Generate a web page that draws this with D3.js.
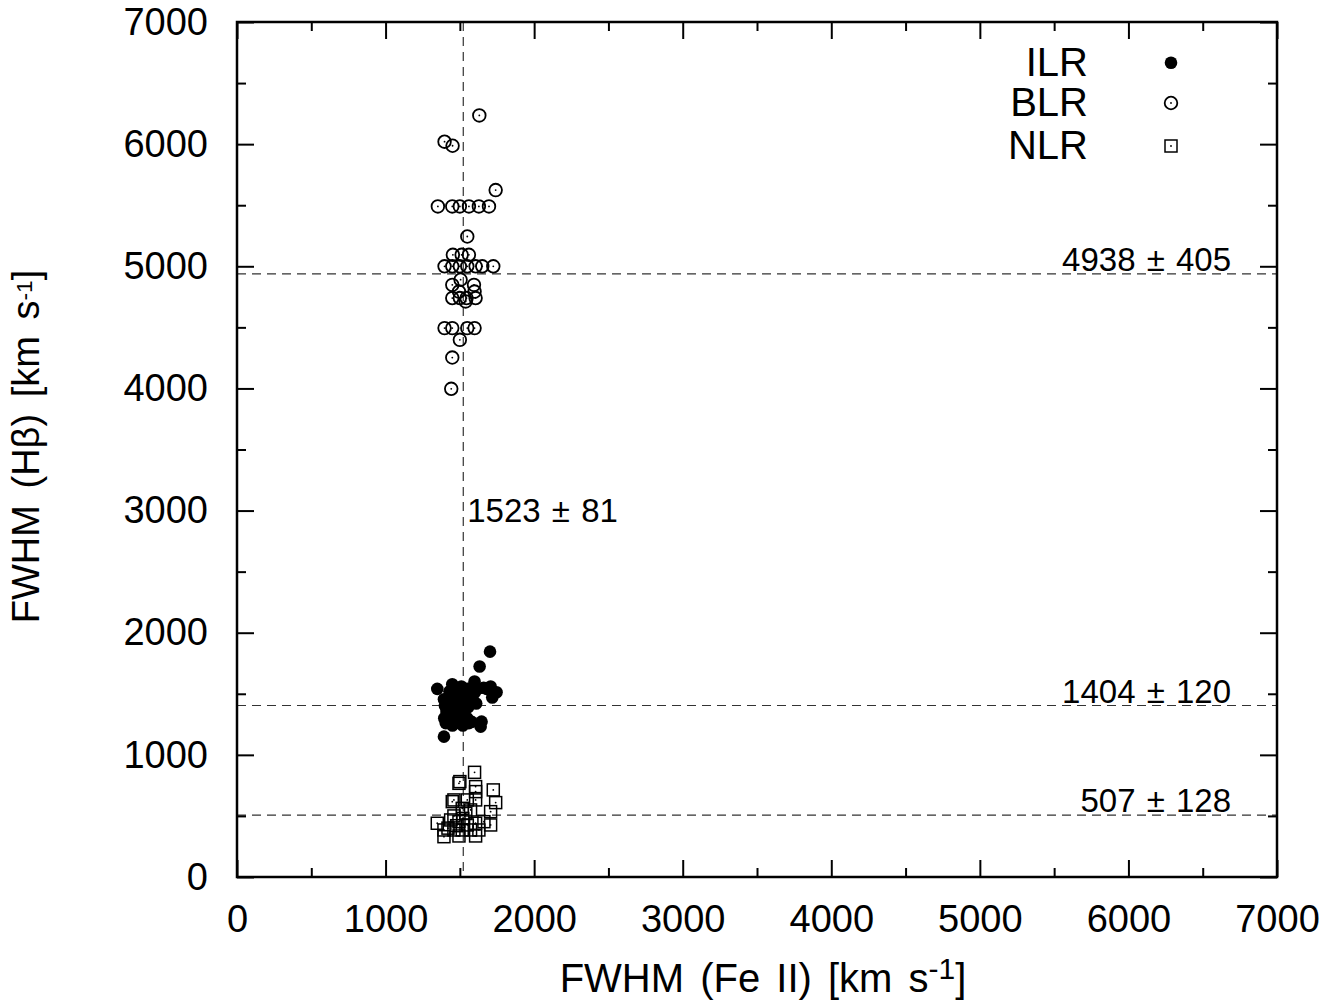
<!DOCTYPE html>
<html>
<head>
<meta charset="utf-8">
<script src="https://cdn.jsdelivr.net/npm/d3@7"></script>
<style>
  body { margin: 0; background: #fff; }
  text { font-family: "Liberation Sans", Arial, Helvetica, sans-serif; }
</style>
</head>
<body>
<div id="chart"></div>
<script>
// data: [FWHM FeII, FWHM Hbeta] in km/s
const ilrPoints = [
  [1703,1845],[1633,1723],[1348,1540],[1449,1578],[1599,1600],[1707,1559],[1747,1512],[1718,1469],
  [1393,1455],[1393,1149],[1646,1272],[1640,1231],
  [1400,1400],[1410,1350],[1395,1300],[1405,1260],[1430,1520],[1440,1470],[1445,1420],[1430,1380],
  [1440,1330],[1435,1280],[1450,1240],[1470,1550],[1480,1500],[1470,1450],[1485,1400],[1475,1350],
  [1480,1300],[1470,1260],[1510,1560],[1520,1510],[1515,1460],[1505,1410],[1520,1360],[1510,1310],
  [1500,1270],[1520,1240],[1550,1540],[1560,1490],[1545,1440],[1555,1390],[1550,1300],[1560,1260],
  [1590,1560],[1600,1510],[1585,1460],[1610,1420],[1580,1270],[1620,1540],[1660,1550],[1680,1540]
];
const blrPoints = [
  [1631,6235],[1397,6020],[1451,5987],[1741,5624],
  [1352,5490],[1449,5490],[1500,5490],[1561,5490],[1628,5490],[1696,5490],
  [1550,5244],[1453,5094],[1512,5094],[1561,5094],
  [1397,5000],[1449,5000],[1500,5000],[1550,5000],[1606,5000],[1651,5000],[1725,5000],
  [1505,4890],[1449,4848],[1595,4848],[1494,4793],[1599,4793],
  [1449,4740],[1500,4740],[1545,4740],[1606,4740],[1539,4712],
  [1397,4494],[1449,4494],[1550,4494],[1599,4494],
  [1500,4398],[1449,4253],[1442,3997]
];
const nlrPoints = [
  [1599,857],[1494,767],[1500,781],[1606,740],[1606,699],[1725,713],[1460,631],[1449,617],
  [1741,609],[1606,631],[1550,631],[1707,535],[1516,562],[1572,549],[1348,440],[1438,467],
  [1494,453],[1550,426],[1606,440],[1662,453],[1393,385],[1460,385],[1516,385],[1572,385],
  [1628,385],[1393,330],[1494,336],[1606,336],[1707,426],[1460,500],[1520,480],[1540,520],
  [1480,420],[1420,400]
];
const seriesNames = ["ILR", "BLR", "NLR"];
const meanFe = { value: 1523, err: 81 };
const meanLines = [
  { value: 4938, err: 405 },
  { value: 1404, err: 120 },
  { value: 507, err: 128 }
];
const majorTicks = [0, 1000, 2000, 3000, 4000, 5000, 6000, 7000];
const minorTicks = [500, 1500, 2500, 3500, 4500, 5500, 6500];

const W = 1332, H = 1007;
const margin = { top: 22, right: 55, bottom: 130, left: 237 };
const width = W - margin.left - margin.right,
      height = H - margin.top - margin.bottom;

const svg = d3.select("#chart").append("svg")
  .attr("width", W).attr("height", H);
const g = svg.append("g")
  .attr("transform", `translate(${margin.left},${margin.top})`);

const x = d3.scaleLinear().domain([0, 7000]).range([0, width]);
const y = d3.scaleLinear().domain([0, 7000]).range([height, 0]);

// dashed reference lines
const dash = "9,6";
g.append("line")
  .attr("x1", x(meanFe.value)).attr("x2", x(meanFe.value))
  .attr("y1", 0).attr("y2", height)
  .attr("stroke", "#333").attr("stroke-width", 1.2).attr("stroke-dasharray", dash);
g.selectAll(".hline").data(meanLines).enter().append("line")
  .attr("x1", 0).attr("x2", width)
  .attr("y1", d => y(d.value)).attr("y2", d => y(d.value))
  .attr("stroke", "#333").attr("stroke-width", 1.2).attr("stroke-dasharray", dash);

// labels of the lines
g.selectAll(".hlab").data(meanLines).enter().append("text")
  .attr("x", width - 46)
  .attr("y", d => y(d.value) - 3)
  .attr("text-anchor", "end")
  .attr("font-size", 33)
  .attr("word-spacing", 2)
  .text(d => d.value + " \u00b1 " + d.err);
g.append("text")
  .attr("x", x(meanFe.value) + 4)
  .attr("y", y(3000))
  .attr("dy", "0.35em")
  .attr("font-size", 33)
  .attr("word-spacing", 2)
  .text(meanFe.value + " \u00b1 " + meanFe.err);

// markers
function drawOpenCircle(sel, cx, cy) {
  sel.append("circle").attr("cx", cx).attr("cy", cy).attr("r", 6.3)
    .attr("fill", "none").attr("stroke", "#000").attr("stroke-width", 1.8);
  sel.append("circle").attr("cx", cx).attr("cy", cy).attr("r", 0.9).attr("fill", "#000");
}
function drawSquare(sel, cx, cy) {
  sel.append("rect").attr("x", cx - 6).attr("y", cy - 6).attr("width", 12).attr("height", 12)
    .attr("fill", "none").attr("stroke", "#000").attr("stroke-width", 1.5);
  sel.append("circle").attr("cx", cx).attr("cy", cy).attr("r", 0.9).attr("fill", "#000");
}
function drawFilled(sel, cx, cy) {
  sel.append("circle").attr("cx", cx).attr("cy", cy).attr("r", 6.3).attr("fill", "#000");
}
const drawers = [drawFilled, drawOpenCircle, drawSquare];

const nlrG = g.append("g");
nlrPoints.forEach(d => drawSquare(nlrG, x(d[0]), y(d[1])));
const ilrG = g.append("g");
ilrPoints.forEach(d => drawFilled(ilrG, x(d[0]), y(d[1])));
const blrG = g.append("g");
blrPoints.forEach(d => drawOpenCircle(blrG, x(d[0]), y(d[1])));

// axes with inward ticks, mirrored like gnuplot
const fontSize = 38;
function styleAxis(a) {
  a.select(".domain").remove();
  a.selectAll(".tick line").attr("stroke", "#000").attr("stroke-width", 2);
  a.selectAll(".tick text").attr("font-size", fontSize)
    .attr("font-family", "'Liberation Sans', Arial, Helvetica, sans-serif").attr("fill", "#000");
}
const xb = g.append("g").attr("transform", `translate(0,${height})`)
  .call(d3.axisBottom(x).tickValues(majorTicks).tickSize(-17).tickPadding(28).tickFormat(d3.format("d")));
styleAxis(xb);
styleAxis(g.append("g").attr("transform", `translate(0,${height})`)
  .call(d3.axisBottom(x).tickValues(minorTicks).tickSize(-9).tickFormat("")));
styleAxis(g.append("g")
  .call(d3.axisTop(x).tickValues(majorTicks).tickSize(-17).tickFormat("")));
styleAxis(g.append("g")
  .call(d3.axisTop(x).tickValues(minorTicks).tickSize(-9).tickFormat("")));

const yl = g.append("g")
  .call(d3.axisLeft(y).tickValues(majorTicks).tickSize(-17).tickPadding(29).tickFormat(d3.format("d")));
styleAxis(yl);
styleAxis(g.append("g")
  .call(d3.axisLeft(y).tickValues(minorTicks).tickSize(-9).tickFormat("")));
styleAxis(g.append("g").attr("transform", `translate(${width},0)`)
  .call(d3.axisRight(y).tickValues(majorTicks).tickSize(-17).tickFormat("")));
styleAxis(g.append("g").attr("transform", `translate(${width},0)`)
  .call(d3.axisRight(y).tickValues(minorTicks).tickSize(-9).tickFormat("")));

// frame
g.append("rect").attr("x", 0).attr("y", 0).attr("width", width).attr("height", height)
  .attr("fill", "none").attr("stroke", "#000").attr("stroke-width", 2.5);

// axis titles
const xt = svg.append("text")
  .attr("x", margin.left + width / 2 + 6)
  .attr("y", 992)
  .attr("text-anchor", "middle")
  .attr("font-size", 40)
  .attr("word-spacing", 5);
xt.append("tspan").text("FWHM (Fe II) [km s");
xt.append("tspan").attr("dy", "-0.45em").attr("font-size", "0.75em").text("-1");
xt.append("tspan").attr("dy", "0.3375em").text("]");

// y title: superscript kept low so it stays inside the page
const yt = svg.append("text")
  .attr("transform", `translate(39,${margin.top + height / 2 - 3}) rotate(-90)`)
  .attr("text-anchor", "middle")
  .attr("font-size", 38)
  .attr("word-spacing", 6);
yt.append("tspan").text("FWHM (H\u03b2) [km s");
yt.append("tspan").attr("dy", "-0.3em").attr("font-size", "0.6em").text("-1");
yt.append("tspan").attr("dy", "0.18em").text("]");

// legend
const legendY = [62.7, 103, 146];
seriesNames.forEach((name, i) => {
  svg.append("text")
    .attr("x", 1088).attr("y", legendY[i] + 13)
    .attr("text-anchor", "end")
    .attr("font-size", 40)
    .text(name);
  drawers[i](svg, 1171, legendY[i]);
});
</script>
</body>
</html>
